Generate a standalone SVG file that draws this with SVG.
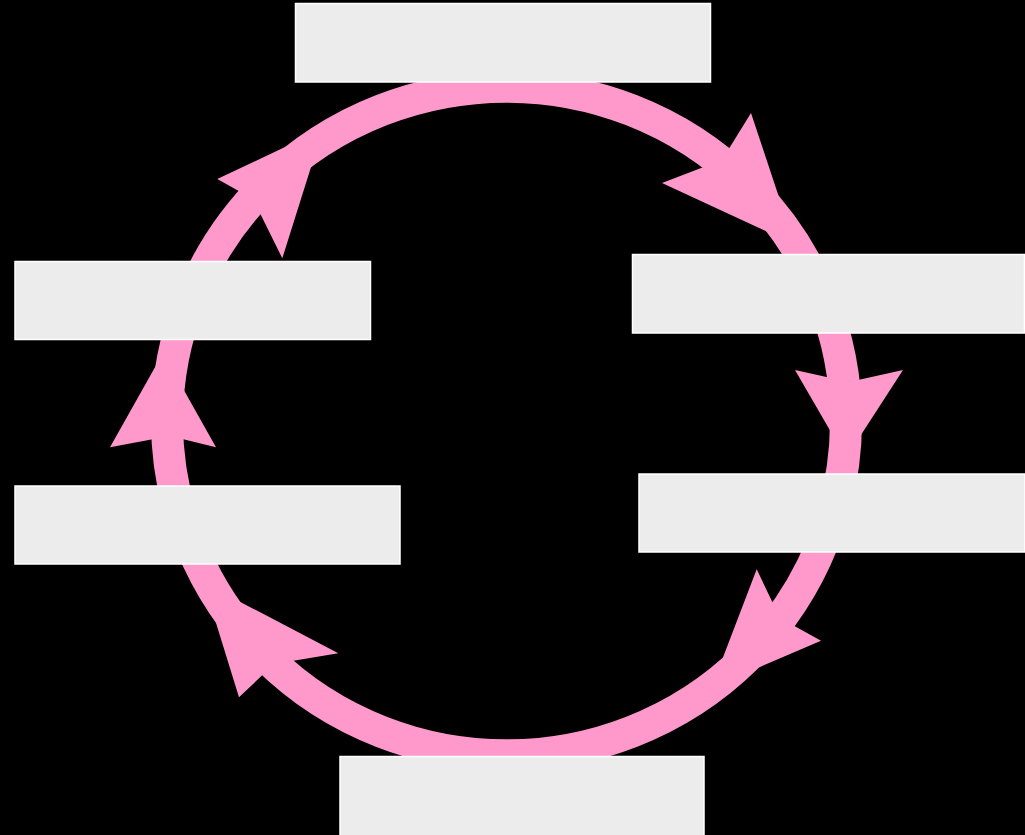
<svg xmlns="http://www.w3.org/2000/svg" width="1025" height="835" viewBox="0 0 1025 835">
<style>
.box{fill:#ececec;stroke:#ffffff;stroke-width:1.5}
.ring{fill:none;stroke:#ff99cc;stroke-width:32}
.head{fill:#ff99cc;stroke:none}
</style>
<rect x="0" y="0" width="1025" height="835" fill="#000000"/>
<g id="connectors">
<ellipse class="ring" cx="506.5" cy="421" rx="339.5" ry="334.3"/>
<polygon class="head" points="794.7,244.4 751,113 722,160 662,183"/>
<polygon class="head" points="846,458 903,370 849,382 795,370"/>
<polygon class="head" points="711.4,687.7 821,640.7 780,618 756.7,569.3"/>
<polygon class="head" points="203.6,582.7 239,697.3 274,664 338.3,653.3"/>
<polygon class="head" points="163,353 110,447.3 170,436 216,447.3"/>
<polygon class="head" points="323,129.1 217.3,179 253,199 282.3,258.3"/>
</g>
<g id="node-top"><rect class="box" x="295.5" y="3.5" width="415" height="78.5"/></g>
<g id="node-right-upper"><rect class="box" x="632.5" y="254.5" width="392" height="78.5"/></g>
<g id="node-right-lower"><rect class="box" x="639" y="474" width="386" height="78"/></g>
<g id="node-bottom"><rect class="box" x="340" y="756.5" width="364" height="80"/></g>
<g id="node-left-lower"><rect class="box" x="15" y="486" width="385" height="78"/></g>
<g id="node-left-upper"><rect class="box" x="15" y="261.5" width="355.5" height="78"/></g>
</svg>
